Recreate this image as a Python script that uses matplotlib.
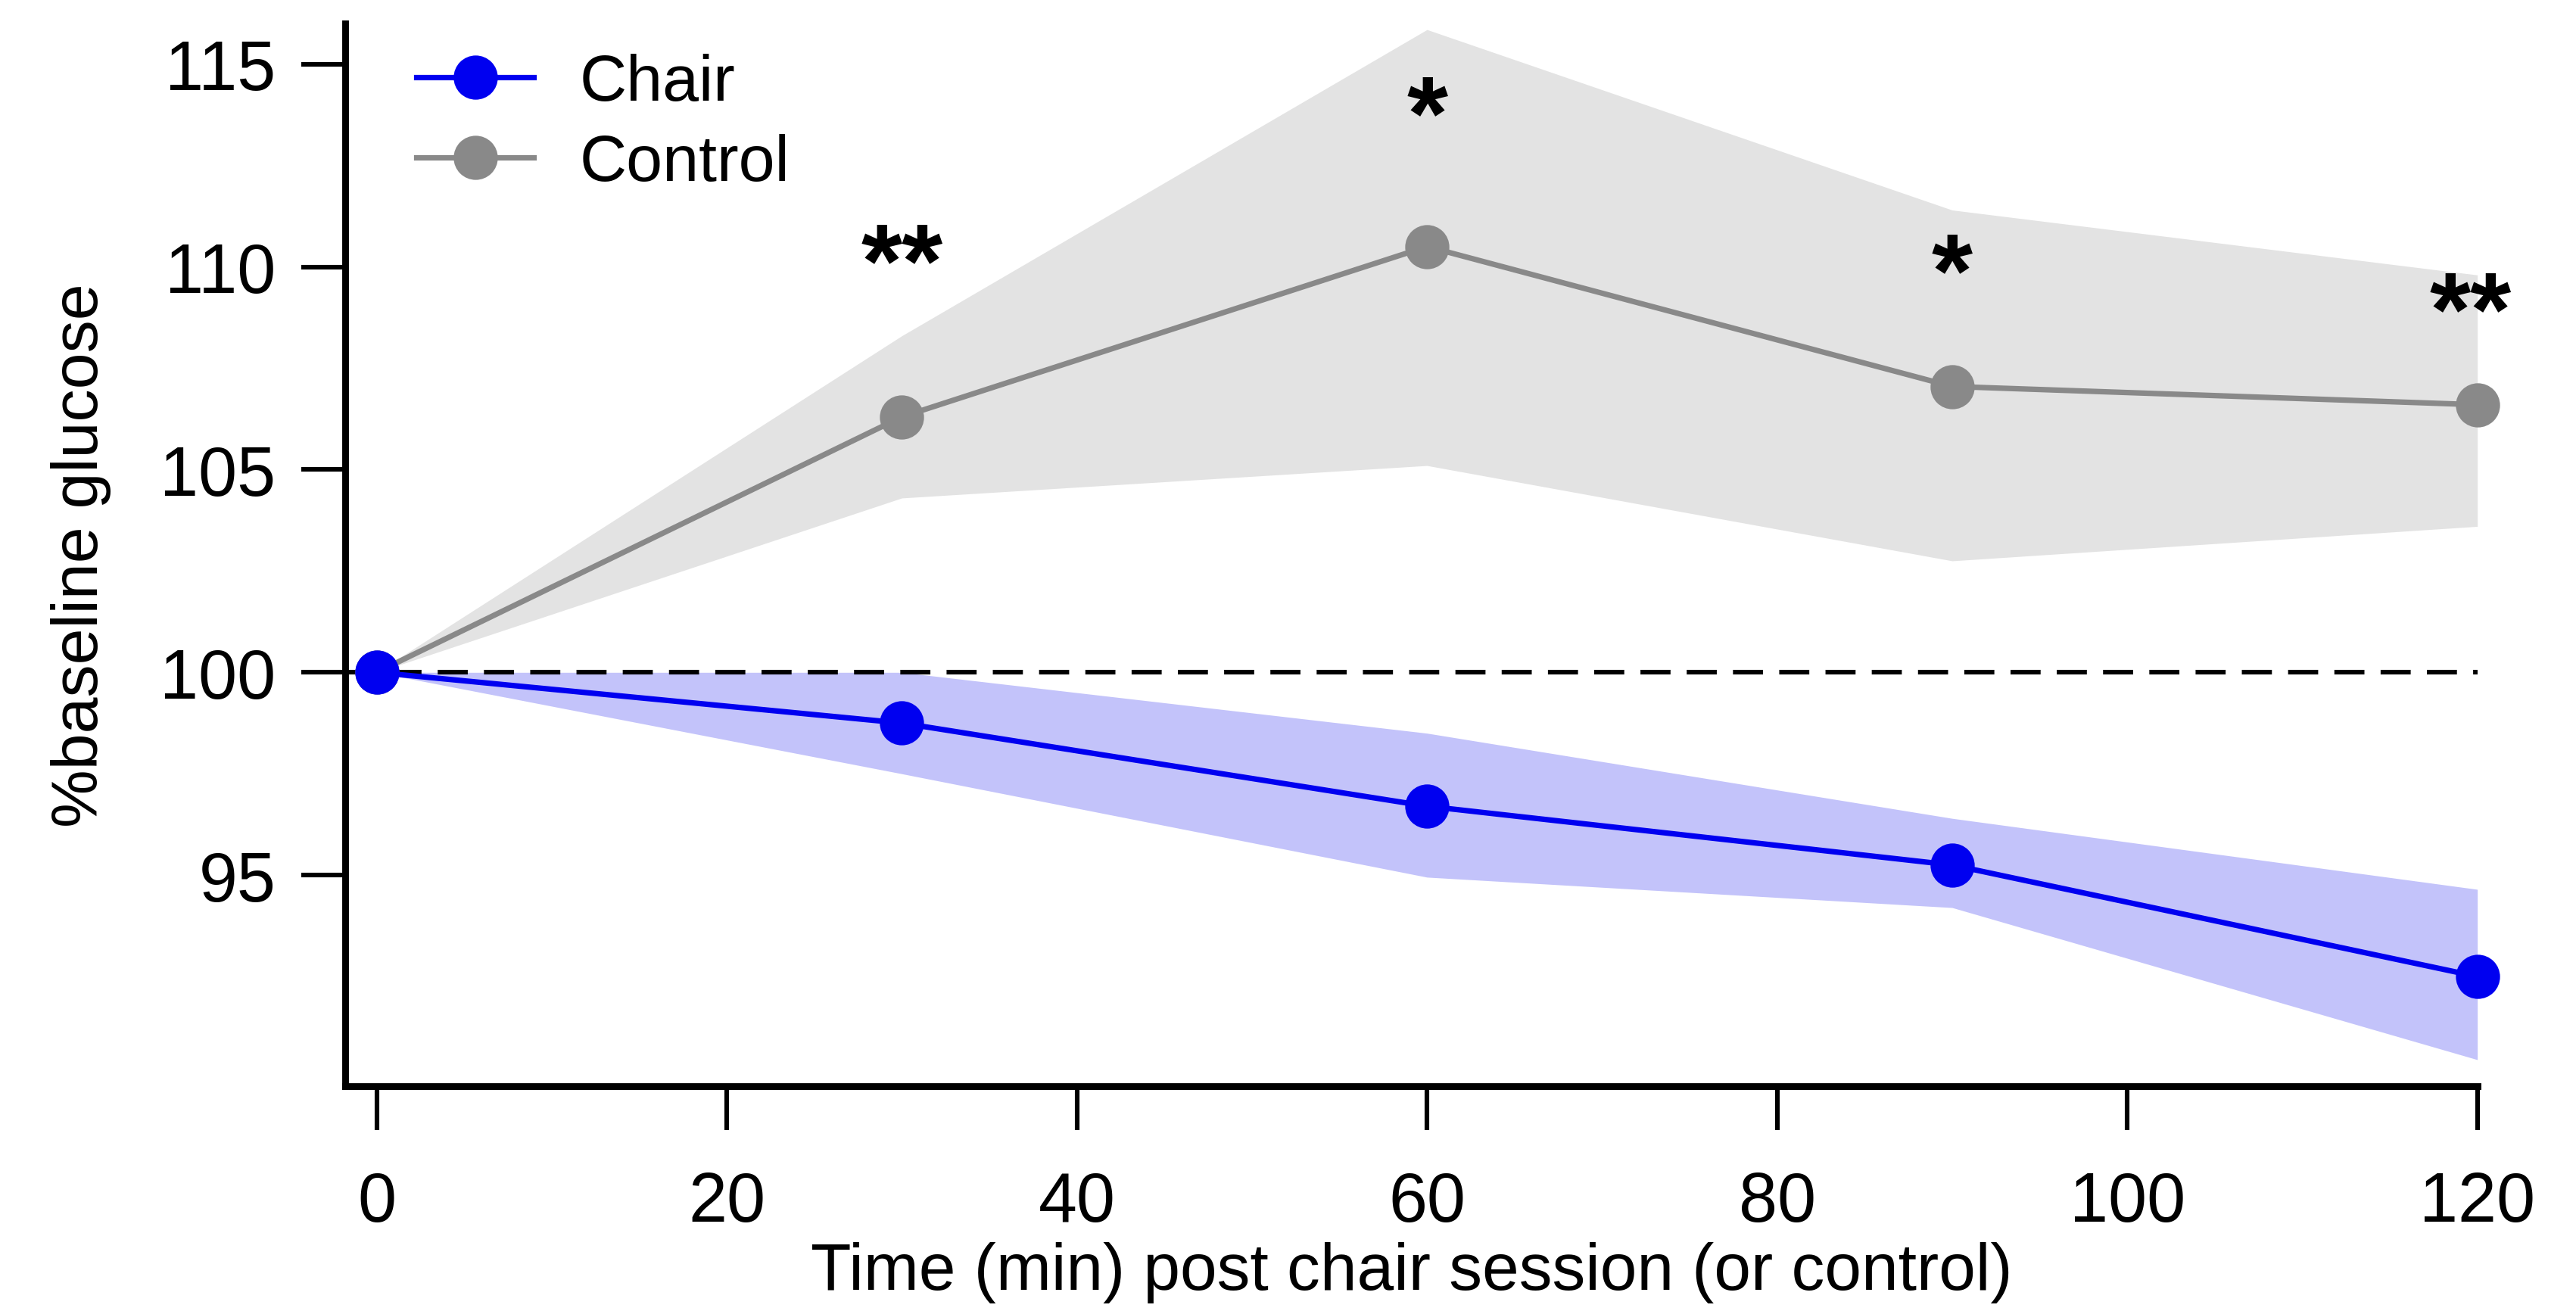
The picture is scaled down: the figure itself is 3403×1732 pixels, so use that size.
import numpy as np
import matplotlib.pyplot as plt

plt.rcParams['font.family'] = ['Liberation Sans', 'DejaVu Sans']

# time points (min)
time = [0, 30, 60, 90, 120]

# Chair session: mean and shaded band
chair_mean = [100.0, 98.75, 96.7, 95.25, 92.5]
chair_upper = [100.0, 100.0, 98.5, 96.4, 94.65]
chair_lower = [100.0, 97.5, 94.95, 94.2, 90.45]

# Control: mean and shaded band
control_mean = [100.0, 106.3, 110.5, 107.05, 106.6]
control_upper = [100.0, 108.3, 115.85, 111.4, 109.8]
control_lower = [100.0, 104.3, 105.1, 102.75, 103.6]

# significance markers
star_x = [30, 60, 90, 119.6]
star_y = [109.95, 113.6, 109.7, 108.75]
star_text = ['**', '*', '*', '**']

x_ticks = [0, 20, 40, 60, 80, 100, 120]
y_ticks = [95, 100, 105, 110, 115]

blue = '#0000f0'
grey = '#898989'

fig = plt.figure(figsize=(3403 / 200, 1733 / 200), dpi=200)
ax = fig.add_axes([0.134, 0.1715, 0.8277, 0.81])

ax.fill_between(time, control_lower, control_upper, color='#e3e3e3', lw=0, zorder=1)
ax.fill_between(time, chair_lower, chair_upper, color='#c3c3fa', lw=0, zorder=1)

ax.axhline(100, color='black', ls=(0, (6.5, 3.5)), lw=2.2, zorder=2)

ax.plot(time, control_mean, color=grey, lw=2.6, marker='o', ms=20,
        label='Control', zorder=3, clip_on=False)
ax.plot(time, chair_mean, color=blue, lw=2.6, marker='o', ms=20,
        label='Chair', zorder=4, clip_on=False)

for sx, sy, st in zip(star_x, star_y, star_text):
    ax.text(sx, sy, st, ha='center', va='center', fontsize=50, fontweight='bold')

ax.set_xlim(-1.8, 120)
ax.set_ylim(89.8, 116)
ax.set_xticks(x_ticks)
ax.set_yticks(y_ticks)

for side in ['top', 'right']:
    ax.spines[side].set_visible(False)
for side in ['left', 'bottom']:
    ax.spines[side].set_linewidth(3.2)
ax.tick_params(direction='out', length=21, width=2.2, labelsize=33)
ax.tick_params(axis='x', pad=19)
ax.tick_params(axis='y', pad=12)

ax.set_xlabel('Time (min) post chair session (or control)', fontsize=31.5, labelpad=3)
ax.set_ylabel('%baseline glucose', fontsize=31, labelpad=23)

handles, labels = ax.get_legend_handles_labels()
ax.legend(handles[::-1], labels[::-1], loc='upper left', bbox_to_anchor=(0.012, 1.015),
          frameon=False, fontsize=31, handlelength=1.8, handletextpad=0.7,
          borderpad=0.2, labelspacing=0.3)

fig.savefig('out.png', dpi=200)
